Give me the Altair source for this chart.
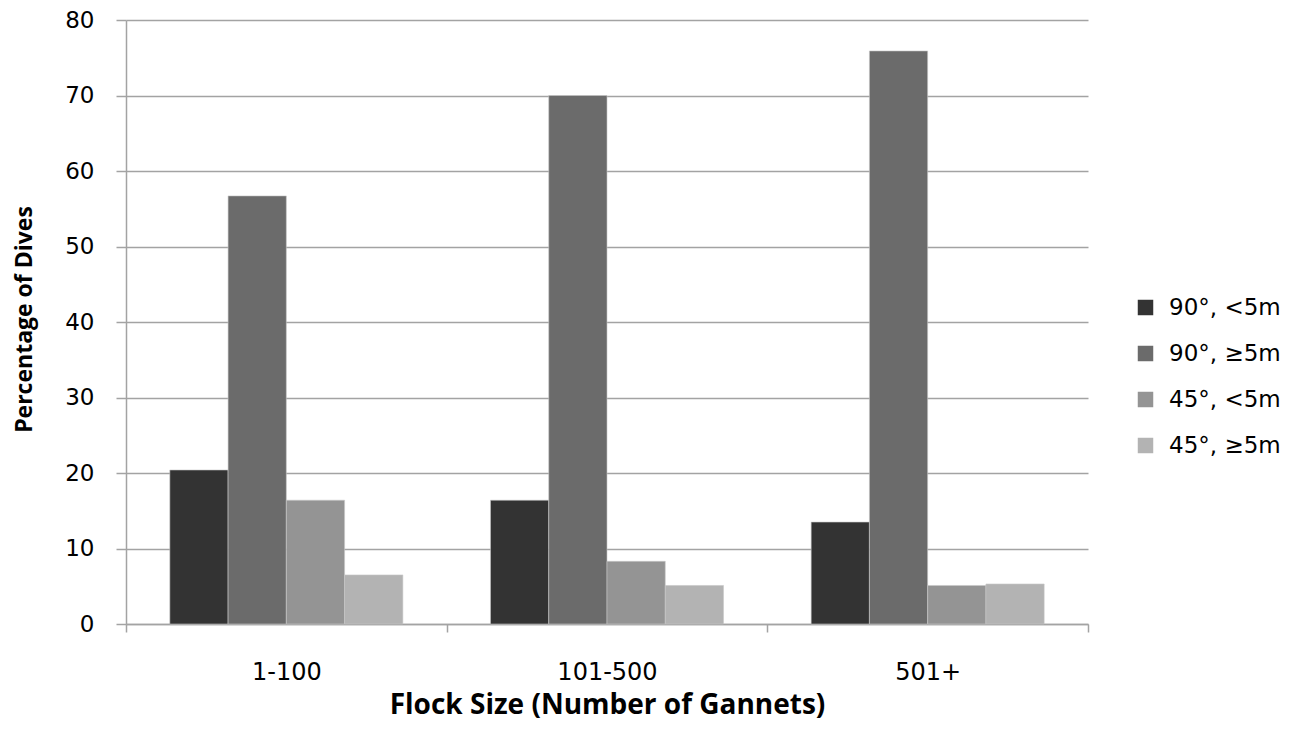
import altair as alt
import pandas as pd

categories = ["1-100", "101-500", "501+"]
series = ["90°, <5m", "90°, ≥5m", "45°, <5m", "45°, ≥5m"]
v_90_lt5 = [20.4, 16.4, 13.5]
v_90_ge5 = [56.7, 70.0, 75.9]
v_45_lt5 = [16.4, 8.3, 5.1]
v_45_ge5 = [6.5, 5.1, 5.3]
colors = ["#333333", "#6b6b6b", "#949494", "#b3b3b3"]

rows = []
for s, vals in zip(series, [v_90_lt5, v_90_ge5, v_45_lt5, v_45_ge5]):
    for c, v in zip(categories, vals):
        rows.append({"Flock": c, "Series": s, "Value": v})
df = pd.DataFrame(rows)

grid_color = "#a3a3a3"

chart = alt.Chart(df).mark_bar(stroke="#c8c8c8", strokeWidth=0.6).encode(
    x=alt.X("Flock:N", sort=categories,
            scale=alt.Scale(paddingInner=0, paddingOuter=0),
            axis=alt.Axis(title="Flock Size (Number of Gannets)", labelAngle=0,
                          tickBand="extent", tickSize=8, labelPadding=28,
                          labelFont="DejaVu Sans", labelFontSize=24,
                          titleY=67, titleBaseline="top", titleFontSize=28,
                          domainColor=grid_color, tickColor=grid_color,
                          domainWidth=1.5, tickWidth=1.5, grid=False)),
    xOffset=alt.XOffset("Series:N", sort=series,
                        scale=alt.Scale(paddingInner=0, paddingOuter=0.7525)),
    y=alt.Y("Value:Q", scale=alt.Scale(domain=[0, 80]),
            axis=alt.Axis(title="Percentage of Dives", values=list(range(0, 81, 10)),
                          tickSize=10, labelPadding=22,
                          labelFont="DejaVu Sans", labelFontSize=23,
                          titleX=-102, titleY=299, titleAngle=270,
                          titleAlign="center", titleBaseline="middle",
                          titleFont="Open Sans", titleFontSize=23,
                          domainColor=grid_color, tickColor=grid_color,
                          domainWidth=1.5, tickWidth=1.5,
                          gridColor=grid_color, gridWidth=1.5)),
    color=alt.Color("Series:N", sort=series,
                    scale=alt.Scale(domain=series, range=colors),
                    legend=alt.Legend(title=None, orient="none", legendX=1008, legendY=276,
                                      symbolType="square", symbolSize=240,
                                      symbolStrokeWidth=0, labelFontSize=23,
                                      labelFont="DejaVu Sans", labelColor="black",
                                      rowPadding=22, labelOffset=12)),
).properties(
    width=962, height=604,
    autosize=alt.AutoSizeParams(type="none"),
    padding={"left": 118, "top": 12, "right": 198, "bottom": 99},
).configure_axis(
    labelColor="black",
    titleFont="Open Sans", titleFontWeight="bold", titleColor="black",
).configure_view(stroke=None)

chart.save("out.html", embed_options={"renderer": "svg", "actions": False})
